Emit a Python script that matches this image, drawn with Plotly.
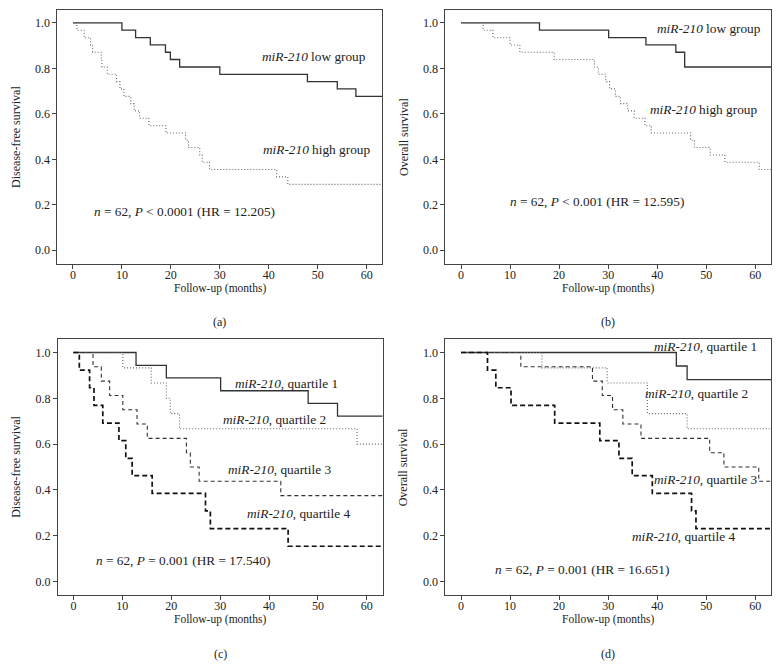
import plotly.graph_objects as go

# Kaplan-Meier step data (months, survival)
FOLLOWUP_END = 65

# (a) disease-free survival, low vs high
dfs_low_t = [0, 10.0, 12.8, 15.8, 18.9, 19.9, 21.8, 30.0, 47.9, 54.0, 57.8]
dfs_low_s = [1.0, 0.968, 0.935, 0.903, 0.871, 0.839, 0.806, 0.774, 0.742, 0.710, 0.677]
dfs_high_t = [0, 0.8, 2.3, 3.6, 4.0, 5.8, 5.9, 7.0, 8.9, 9.6, 10.4, 11.8, 12.5, 13.6,
              15.5, 19.0, 23.0, 23.6, 25.9, 26.4, 27.9, 41.6, 43.9]
dfs_high_s = [1.0, 0.968, 0.935, 0.903, 0.871, 0.839, 0.806, 0.774, 0.742, 0.710, 0.677,
              0.645, 0.613, 0.581, 0.548, 0.516, 0.484, 0.452, 0.419, 0.387, 0.355, 0.323, 0.290]

# (b) overall survival, low vs high
os_low_t = [0, 16.0, 30.1, 37.7, 43.8, 45.6]
os_low_s = [1.0, 0.968, 0.935, 0.903, 0.871, 0.806]
os_high_t = [0, 4.5, 6.5, 10.0, 12.0, 19.0, 27.2, 28.0, 29.5, 30.3, 31.5, 32.5, 34.0,
             35.3, 37.5, 38.8, 46.8, 47.6, 50.8, 53.8, 60.8]
os_high_s = [1.0, 0.968, 0.935, 0.903, 0.871, 0.839, 0.806, 0.774, 0.742, 0.710, 0.677,
             0.645, 0.613, 0.581, 0.548, 0.516, 0.484, 0.452, 0.419, 0.387, 0.355]

# (c) disease-free survival by quartile
dfs_q1_t = [0, 12.8, 19.0, 30.1, 48.0, 54.0]
dfs_q1_s = [1.0, 0.944, 0.889, 0.833, 0.778, 0.722]
dfs_q2_t = [0, 10.1, 15.9, 19.0, 19.8, 21.7, 58.0]
dfs_q2_s = [1.0, 0.933, 0.867, 0.800, 0.733, 0.667, 0.600]
dfs_q3_t = [0, 4.0, 5.7, 7.4, 10.1, 13.0, 15.1, 23.1, 23.9, 25.7, 42.4]
dfs_q3_s = [1.0, 0.9375, 0.875, 0.8125, 0.75, 0.6875, 0.625, 0.5625, 0.5, 0.4375, 0.375]
dfs_q4_t = [0, 1.2, 3.3, 4.2, 6.0, 9.3, 10.7, 12.0, 16.1, 27.0, 28.0, 43.9]
dfs_q4_s = [1.0, 0.923, 0.846, 0.769, 0.692, 0.615, 0.538, 0.462, 0.385, 0.308, 0.231, 0.154]

# (d) overall survival by quartile
os_q1_t = [0, 43.9, 46.1]
os_q1_s = [1.0, 0.941, 0.882]
os_q2_t = [0, 16.5, 29.8, 38.0, 46.1]
os_q2_s = [1.0, 0.933, 0.867, 0.733, 0.667]
os_q3_t = [0, 12.2, 26.8, 28.8, 30.9, 33.0, 36.7, 50.7, 53.6, 60.7]
os_q3_s = [1.0, 0.9375, 0.875, 0.8125, 0.75, 0.6875, 0.625, 0.5625, 0.5, 0.4375]
os_q4_t = [0, 5.4, 7.1, 10.2, 19.1, 28.3, 32.2, 34.9, 39.0, 47.0, 47.9]
os_q4_s = [1.0, 0.923, 0.846, 0.769, 0.692, 0.615, 0.538, 0.462, 0.385, 0.308, 0.231]

x_ticks = [0, 10, 20, 30, 40, 50, 60]
y_ticks = [0.0, 0.2, 0.4, 0.6, 0.8, 1.0]
y_tick_text = ["0.0", "0.2", "0.4", "0.6", "0.8", "1.0"]

# the page body keeps its default 8px margin, so the figure is shrunk by that much
OFF = 8
W, H = 780 - OFF, 668 - OFF
FONT = "Liberation Serif, Times New Roman, serif"
INK = "#222"


def px(x):
    return (x - OFF) / W


def py(y):
    return 1 - (y - OFF) / H


# line styles
SOLID = dict(color="#333", width=1.3)
DOTTED = dict(color="#666", width=1.1, dash="1px,2px")
DASH_THIN = dict(color="#333", width=1.1, dash="4px,3px")
DASH_THICK = dict(color="#111", width=1.7, dash="5px,3px")

# panel frames in page pixels: (left, top, right, bottom)
frames = {
    "a": (57.3, 9.5, 382.3, 263.7),
    "b": (445.3, 9.5, 771.0, 263.7),
    "c": (57.8, 339.0, 382.5, 595.0),
    "d": (445.3, 339.0, 771.0, 595.0),
}

panels = [
    dict(key="a", ax="", ytitle="Disease-free survival",
         curves=[(dfs_low_t, dfs_low_s, SOLID), (dfs_high_t, dfs_high_s, DOTTED)],
         notes=[("<i>miR-210</i> low group", 49.3, 0.852),
                ("<i>miR-210</i> high group", 49.7, 0.444),
                ("<i>n</i> = 62, <i>P</i> &lt; 0.0001 (HR = 12.205)", 22.8, 0.169)]),
    dict(key="b", ax="2", ytitle="Overall survival",
         curves=[(os_low_t, os_low_s, SOLID), (os_high_t, os_high_s, DOTTED)],
         notes=[("<i>miR-210</i> low group", 50.5, 0.977),
                ("<i>miR-210</i> high group", 49.5, 0.621),
                ("<i>n</i> = 62, <i>P</i> &lt; 0.001 (HR = 12.595)", 27.7, 0.215)]),
    dict(key="c", ax="3", ytitle="Disease-free survival",
         curves=[(dfs_q1_t, dfs_q1_s, SOLID), (dfs_q2_t, dfs_q2_s, DOTTED),
                 (dfs_q3_t, dfs_q3_s, DASH_THIN), (dfs_q4_t, dfs_q4_s, DASH_THICK)],
         notes=[("<i>miR-210</i>, quartile 1", 43.5, 0.865),
                ("<i>miR-210</i>, quartile 2", 41.2, 0.708),
                ("<i>miR-210</i>, quartile 3", 42.2, 0.49),
                ("<i>miR-210</i>, quartile 4", 46.0, 0.298),
                ("<i>n</i> = 62, <i>P</i> = 0.001 (HR = 17.540)", 22.4, 0.09)]),
    dict(key="d", ax="4", ytitle="Overall survival",
         curves=[(os_q1_t, os_q1_s, SOLID), (os_q2_t, os_q2_s, DOTTED),
                 (os_q3_t, os_q3_s, DASH_THIN), (os_q4_t, os_q4_s, DASH_THICK)],
         notes=[("<i>miR-210</i>, quartile 1", 49.8, 1.025),
                ("<i>miR-210</i>, quartile 2", 48.1, 0.82),
                ("<i>miR-210</i>, quartile 3", 49.8, 0.445),
                ("<i>miR-210</i>, quartile 4", 45.4, 0.195),
                ("<i>n</i> = 62, <i>P</i> = 0.001 (HR = 16.651)", 24.7, 0.051)]),
]

fig = go.Figure()
annotations = []
layout = {}

for p in panels:
    left, top, right, bottom = frames[p["key"]]
    xa, ya = "x" + p["ax"], "y" + p["ax"]
    axis_common = dict(
        showline=True, linecolor="#444", linewidth=1, mirror=True,
        ticks="outside", ticklen=4, tickwidth=1, tickcolor="#444",
        showgrid=False, zeroline=False, automargin=False,
        tickfont=dict(family=FONT, size=12, color=INK),
    )
    layout["xaxis" + p["ax"]] = dict(
        axis_common, domain=[px(left), px(right)], anchor=ya,
        range=[-3.2, 63.2], tickvals=x_ticks, ticklabelstandoff=-4,
    )
    layout["yaxis" + p["ax"]] = dict(
        axis_common, domain=[py(bottom), py(top)], anchor=xa,
        range=[-0.059, 1.059], tickvals=y_ticks, ticktext=y_tick_text,
    )

    for t, s, style in p["curves"]:
        fig.add_trace(go.Scatter(
            x=t + [FOLLOWUP_END], y=s + [s[-1]], mode="lines",
            line=dict(shape="hv", **style),
            xaxis=xa, yaxis=ya, showlegend=False, hoverinfo="skip",
        ))

    for text, x, y in p["notes"]:
        annotations.append(dict(
            text=text, x=x, y=y, xref=xa, yref=ya, showarrow=False,
            xanchor="center", yanchor="middle",
            font=dict(family=FONT, size=13.3, color=INK),
        ))

    # axis titles and panel letter, placed in page pixels
    cx = (left + right) / 2
    annotations.append(dict(
        text="Follow-up (months)", x=px(cx), y=py(bottom + 24.6),
        xref="paper", yref="paper", showarrow=False, xanchor="center", yanchor="middle",
        font=dict(family=FONT, size=11.5, color=INK),
    ))
    annotations.append(dict(
        text=p["ytitle"], x=px(left - 42), y=py((top + bottom) / 2),
        xref="paper", yref="paper", showarrow=False, textangle=-90,
        xanchor="center", yanchor="middle",
        font=dict(family=FONT, size=12, color=INK),
    ))
    annotations.append(dict(
        text="(" + p["key"] + ")", x=px(cx), y=py(bottom + 58.5),
        xref="paper", yref="paper", showarrow=False, xanchor="center", yanchor="middle",
        font=dict(family=FONT, size=12, color=INK),
    ))

fig.update_layout(
    template="none",
    width=W, height=H,
    margin=dict(l=0, r=0, t=0, b=0),
    paper_bgcolor="white", plot_bgcolor="white",
    annotations=annotations,
    **layout,
)

fig.write_html("out.html")
